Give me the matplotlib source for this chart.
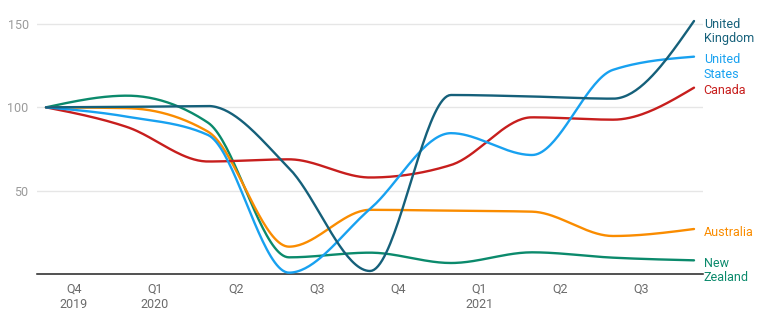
import numpy as np
import matplotlib
matplotlib.use("Agg")
import matplotlib.pyplot as plt

plt.rcParams['font.family'] = ['Roboto', 'DejaVu Sans']

# Index values (Q4 2019 = 100), one observation per quarter step
periods = np.arange(9)
united_kingdom = [100, 100.3, 100.8, 63.5, 1.8, 107.4, 106.5, 105.2, 151.8]
united_states = [100, 94.4, 83.4, 0.8, 39, 84.5, 71.4, 122.5, 130.4]
canada = [100, 88.2, 67.5, 68.8, 57.9, 65.4, 94.0, 92.6, 111.8]
australia = [100, 99.5, 85.4, 16.4, 38.5, 38.0, 37.4, 22.8, 27.0]
new_zealand = [100, 107.0, 90.8, 10.0, 12.8, 6.6, 13.0, 9.8, 8.2]

series_names = ["New\nZealand", "Australia", "Canada", "United\nStates", "United\nKingdom"]
series_values = [new_zealand, australia, canada, united_states, united_kingdom]
series_colors = ["#0b8a6c", "#fa8c00", "#c71e1d", "#18a1f0", "#15607a"]

quarter_labels = ["Q4\n2019", "Q1\n2020", "Q2", "Q3", "Q4", "Q1\n2021", "Q2", "Q3"]
y_ticks = [50, 100, 150]


def monotone_x(x, y, samples=40):
    """Monotone cubic interpolation (same rule as d3.curveMonotoneX)."""
    x = np.asarray(x, float)
    y = np.asarray(y, float)
    n = len(x)
    h = np.diff(x)
    s = np.diff(y) / h
    t = np.zeros(n)
    for i in range(1, n - 1):
        s0, s1 = s[i - 1], s[i]
        p = (s0 * h[i] + s1 * h[i - 1]) / (h[i - 1] + h[i])
        t[i] = (np.sign(s0) + np.sign(s1)) * min(abs(s0), abs(s1), 0.5 * abs(p))
    t[0] = (3 * s[0] - t[1]) / 2
    t[-1] = (3 * s[-1] - t[-2]) / 2
    xs, ys = [], []
    for i in range(n - 1):
        u = np.linspace(0, 1, samples, endpoint=(i == n - 2))
        x0, x1 = x[i], x[i + 1]
        dx = x1 - x0
        p0, p3 = y[i], y[i + 1]
        p1 = p0 + dx * t[i] / 3
        p2 = p3 - dx * t[i + 1] / 3
        b = ((1 - u) ** 3 * p0 + 3 * (1 - u) ** 2 * u * p1
             + 3 * (1 - u) * u ** 2 * p2 + u ** 3 * p3)
        xs.append(x0 + dx * u)
        ys.append(b)
    return np.concatenate(xs), np.concatenate(ys)


fig = plt.figure(figsize=(7.65, 3.24), dpi=100)
ax = fig.add_axes([37 / 765, 50 / 324, 666 / 765, 267 / 324])
ax.set_xlim(-0.111, 8.111)
ax.set_ylim(0, 160.2)

for yt in y_ticks:
    ax.axhline(yt, color="#e6e6e6", lw=1, zorder=0)
ax.axhline(0, color="#222222", lw=1.1, zorder=1, clip_on=False)

for name, vals, col in zip(series_names, series_values, series_colors):
    xs, ys = monotone_x(periods, vals)
    ax.plot(xs, ys, color=col, lw=1.7, solid_capstyle="round", zorder=3, clip_on=False)
    ax.annotate(name, xy=(periods[-1], vals[-1]), xytext=(7, 2.5),
                textcoords="offset points", ha="left", va="top",
                color=col, fontsize=9, linespacing=1.15, annotation_clip=False)

for spine in ax.spines.values():
    spine.set_visible(False)

ax.set_yticks(y_ticks)
ax.set_yticklabels([str(v) for v in y_ticks], color="#9a9a9a", fontsize=9)
ax.tick_params(axis="y", length=0, pad=6)

ax.set_xticks(periods[:-1] + 0.346)
ax.set_xticklabels(quarter_labels, color="#6b6b6b", fontsize=9, linespacing=1.25)
ax.tick_params(axis="x", length=0, pad=6)

fig.savefig("out.png", dpi=100)
